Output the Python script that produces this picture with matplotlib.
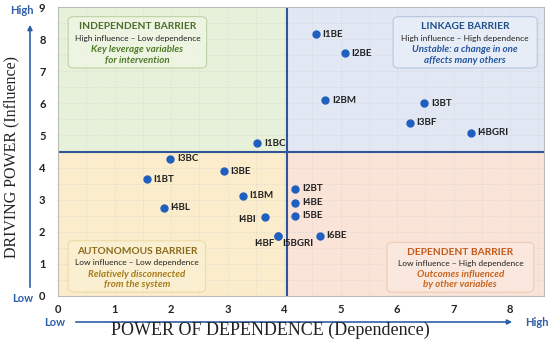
import matplotlib
matplotlib.use("Agg")
import matplotlib.pyplot as plt
from matplotlib.patches import FancyBboxPatch, Rectangle, FancyArrowPatch

plt.rcParams['font.family'] = ['Lato', 'DejaVu Sans']

# data
names = ["I1BE", "I2BE", "I2BM", "I3BT", "I3BF", "I4BGRI", "I1BC", "I3BC", "I3BE",
         "I1BT", "I1BM", "I4BL", "I4BI", "I4BF", "I5BGRI", "I2BT", "I4BE", "I5BE", "I6BE"]
dependence = [4.56, 5.07, 4.73, 6.48, 6.22, 7.30, 3.53, 1.98, 2.93,
              1.57, 3.27, 1.87, 3.66, 3.90, 3.90, 4.20, 4.20, 4.20, 4.63]
driving = [8.15, 7.56, 6.10, 6.00, 5.40, 5.09, 4.75, 4.28, 3.88,
           3.63, 3.12, 2.75, 2.47, 1.88, 1.88, 3.34, 2.90, 2.50, 1.88]
label_side = ["r"] * 12 + ["l", "bl", "br", "r", "r", "r", "r"]

x_split = 4.05
y_split = 4.47
xmax, ymax = 8.6, 9

fig = plt.figure(figsize=(5.5, 3.48), dpi=100)
ax = fig.add_axes([58/550, 1-296/348, (544-58)/550, (296-7)/348])
ax.set_xlim(0, xmax)
ax.set_ylim(0, ymax)

# quadrant backgrounds
ax.add_patch(Rectangle((0, y_split), x_split, ymax-y_split, color="#e7f1da", zorder=0))
ax.add_patch(Rectangle((x_split, y_split), xmax-x_split, ymax-y_split, color="#e1e8f4", zorder=0))
ax.add_patch(Rectangle((0, 0), x_split, y_split, color="#fbeccb", zorder=0))
ax.add_patch(Rectangle((x_split, 0), xmax-x_split, y_split, color="#fae4d8", zorder=0))

ax.set_axisbelow(True)
ax.set_xticks([i*0.5 for i in range(18)], minor=True)
ax.set_yticks([i*0.5 for i in range(19)], minor=True)
ax.grid(True, which="both", color="#d0d0d0", lw=0.5, ls=(0, (2, 2)), alpha=0.7)

ax.axvline(x_split, color="#2f5597", lw=1.5, zorder=2)
ax.axhline(y_split, color="#2f5597", lw=1.5, zorder=2)

for s in ax.spines.values():
    s.set_color("#bbbbbb")
    s.set_linewidth(0.8)

ax.set_xticks(range(9))
ax.set_yticks(range(10))
ax.tick_params(which="both", length=0)
ax.tick_params(axis="x", pad=6, labelsize=8)
ax.tick_params(axis="y", pad=9, labelsize=8)
for t in ax.get_xticklabels() + ax.get_yticklabels():
    t.set_fontweight("bold")
    t.set_color("#222222")

ax.plot(dependence, driving, "o", color="#1f5fbf", ms=5, zorder=4)
for n, x, y, side in zip(names, dependence, driving, label_side):
    if side == "r":
        off, ha = (5, 0), "left"
    elif side == "l":
        off, ha = (-6, -2), "right"
    elif side == "bl":
        off, ha = (-3, -6), "right"
    else:
        off, ha = (3, -6), "left"
    ax.annotate(n, (x, y), xytext=off, textcoords="offset points", ha=ha, va="center",
                fontsize=7, fontweight="bold", color="#222222", zorder=5)

# quadrant descriptions
boxes = [
    (0.18, 7.1, 2.45, 1.6, "#eef5e4", "#b9cfa0", "INDEPENDENT BARRIER", "High influence – Low dependence",
     "Key leverage variables\nfor intervention", "#4d6b2b", "#4f7a28"),
    (5.93, 7.1, 2.55, 1.6, "#e8eef7", "#b3c3dc", "LINKAGE BARRIER", "High influence – High dependence",
     "Unstable: a change in one\naffects many others", "#1f4e8c", "#2356a0"),
    (0.18, 0.12, 2.43, 1.6, "#fcf0d2", "#ecd9a3", "AUTONOMOUS BARRIER", "Low influence – Low dependence",
     "Relatively disconnected\nfrom the system", "#8a6a1c", "#a67c1a"),
    (5.82, 0.12, 2.6, 1.55, "#fbe9df", "#ebc7b3", "DEPENDENT BARRIER", "Low influence – High dependence",
     "Outcomes influenced\nby other variables", "#c45a1a", "#c8641e"),
]
for x0, y0, w, h, fc, ec, title, sub, desc, tc, dc in boxes:
    ax.add_patch(FancyBboxPatch((x0, y0), w, h, boxstyle="round,pad=0,rounding_size=0.12",
                                fc=fc, ec=ec, lw=0.8, zorder=3, alpha=0.9))
    cx = x0 + w/2
    ax.text(cx, y0 + h*0.8, title, ha="center", va="center", fontsize=7.3, fontweight="bold", color=tc, zorder=4)
    ax.text(cx, y0 + h*0.57, sub, ha="center", va="center", fontsize=6, color="#222222", zorder=4)
    ax.text(cx, y0 + h*0.25, desc, ha="center", va="center", fontsize=7, fontweight="bold",
            style="italic", color=dc, linespacing=1.2, zorder=4)

# axis arrows and labels
blue = "#2e5fa8"
fig.patches.append(FancyArrowPatch((30/550, 1-290/348), (30/550, 1-22/348),
                   transform=fig.transFigure, arrowstyle="-|>", mutation_scale=7, color=blue, lw=1.2))
fig.patches.append(FancyArrowPatch((73/550, 1-322/348), (515/550, 1-322/348),
                   transform=fig.transFigure, arrowstyle="-|>", mutation_scale=7, color=blue, lw=1.2))
fig.text(22/550, 1-10/348, "High", ha="center", va="center", fontsize=8, fontweight="bold", color=blue)
fig.text(23/550, 1-298/348, "Low", ha="center", va="center", fontsize=8, fontweight="bold", color=blue)
fig.text(55/550, 1-322/348, "Low", ha="center", va="center", fontsize=8, fontweight="bold", color=blue)
fig.text(537/550, 1-322/348, "High", ha="center", va="center", fontsize=8, fontweight="bold", color=blue)

fig.text(270/550, 1-330/348, "POWER OF DEPENDENCE (Dependence)", ha="center", va="center",
         fontsize=13, family="Liberation Serif", color="#222222")
fig.text(11/550, 1-157/348, "DRIVING POWER (Influence)", ha="center", va="center", rotation=90,
         fontsize=11.5, family="Liberation Serif", color="#222222")

fig.savefig("out.png", dpi=100)
